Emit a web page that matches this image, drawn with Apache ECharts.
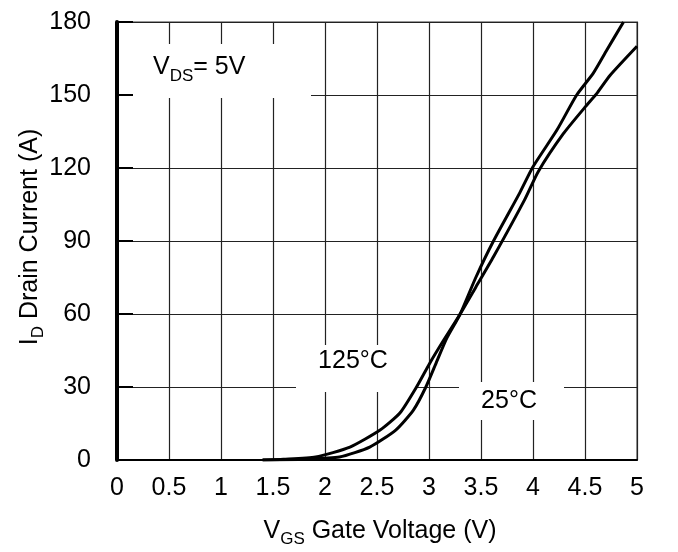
<!DOCTYPE html>
<html lang="en">
<head>
    <meta charset="UTF-8">
    <title>Transfer Characteristics</title>
    <script src="https://cdn.jsdelivr.net/npm/echarts@6/dist/echarts.min.js"></script>
    <style type="text/css">
        body{ margin:0; background:#fff; }
    </style>
</head>
<body>
<div id="main" style="width: 678px;height:552px;"></div>
<script type="text/javascript">
    // curve readings (V, A)
    var vgs25  = [1.4, 1.8, 2.14, 2.43, 2.68, 2.85, 2.97, 3.07, 3.17, 3.3, 3.45, 3.62, 3.875, 4.0, 4.23, 4.42, 4.58, 4.71, 4.87];
    var id25   = [0, 0.3, 1.2, 5.3, 12.3, 20.5, 30, 40, 50, 60, 75, 90, 110, 120.5, 135.6, 150, 159, 168.5, 180];
    var vgs125 = [1.4, 1.6, 1.91, 2.24, 2.53, 2.72, 2.88, 3.01, 3.13, 3.3, 3.45, 3.62, 3.92, 4.05, 4.29, 4.5, 4.62, 4.74, 5.0];
    var id125  = [0, 0.3, 1.2, 5.3, 12.3, 19.3, 30, 40, 48.5, 60, 71, 83.5, 107, 118.5, 134, 145, 151, 158, 170];

    var xTicks = {min: 0, max: 5, interval: 0.5};
    var yTicks = {min: 0, max: 180, interval: 30};

    function pairs(xs, ys){
        var res = [];
        for (var i = 0; i < xs.length; i++) res.push([xs[i], ys[i]]);
        return res;
    }

    var FONT = '"Liberation Sans", Arial, sans-serif';
    var myChart = echarts.init(document.getElementById('main'));

    var option = {
        animation: false,
        backgroundColor: '#fff',
        grid: {
            left: 117, right: 41, top: 22, bottom: 92,
            show: true, borderColor: '#999', borderWidth: 2
        },
        xAxis: {
            type: 'value',
            min: xTicks.min, max: xTicks.max, interval: xTicks.interval,
            axisLine: {lineStyle: {color: '#000', width: 2}},
            axisTick: {show: false},
            splitLine: {lineStyle: {color: '#222', width: 1.2}},
            axisLabel: {color: '#000', fontSize: 25, fontFamily: FONT, margin: 16}
        },
        yAxis: {
            type: 'value',
            min: yTicks.min, max: yTicks.max, interval: yTicks.interval,
            axisLine: {show: true, lineStyle: {color: '#000', width: 4}},
            axisTick: {show: true, inside: true, length: 16, lineStyle: {color: '#000', width: 2}},
            splitLine: {lineStyle: {color: '#222', width: 1.2}},
            axisLabel: {color: '#000', fontSize: 25, fontFamily: FONT, margin: 26}
        },
        graphic: [
            // label boxes (white background cuts the grid)
            {type: 'rect', z: 1, shape: {x: 133, y: 44, width: 178, height: 54}, style: {fill: '#fff'}},
            {type: 'rect', z: 1, shape: {x: 296, y: 345, width: 119, height: 47}, style: {fill: '#fff'}},
            {type: 'rect', z: 1, shape: {x: 459, y: 382, width: 105, height: 38}, style: {fill: '#fff'}},
            {
                type: 'text', z: 10, left: 153, top: 55,
                style: {
                    text: '{a|V}{b|DS}{a|= 5V}',
                    rich: {
                        a: {fontSize: 25, fontFamily: FONT, fill: '#000', lineHeight: 34, verticalAlign: 'middle'},
                        b: {fontSize: 17, fontFamily: FONT, fill: '#000', lineHeight: 17, verticalAlign: 'bottom'}
                    }
                }
            },
            {
                type: 'text', z: 10, x: 353, y: 361,
                style: {text: '125°C', fontSize: 25, fontFamily: FONT, fill: '#000', align: 'center', verticalAlign: 'middle'}
            },
            {
                type: 'text', z: 10, x: 509, y: 401,
                style: {text: '25°C', fontSize: 25, fontFamily: FONT, fill: '#000', align: 'center', verticalAlign: 'middle'}
            },
            {
                type: 'text', z: 10, x: 30, y: 237, rotation: Math.PI / 2,
                style: {
                    text: '{a|I}{b|D}{a| Drain Current (A)}',
                    align: 'center', verticalAlign: 'middle',
                    rich: {
                        a: {fontSize: 25, fontFamily: FONT, fill: '#000', lineHeight: 34, verticalAlign: 'middle'},
                        b: {fontSize: 17, fontFamily: FONT, fill: '#000', lineHeight: 17, verticalAlign: 'bottom'}
                    }
                }
            },
            {
                type: 'text', z: 10, x: 380, y: 531,
                style: {
                    text: '{a|V}{b|GS}{a| Gate Voltage (V)}',
                    align: 'center', verticalAlign: 'middle',
                    rich: {
                        a: {fontSize: 25, fontFamily: FONT, fill: '#000', lineHeight: 34, verticalAlign: 'middle'},
                        b: {fontSize: 17, fontFamily: FONT, fill: '#000', lineHeight: 17, verticalAlign: 'bottom'}
                    }
                }
            }
        ],
        series: [
            {
                name: '25°C', type: 'line', z: 3, showSymbol: false, smooth: 0.2,
                lineStyle: {color: '#000', width: 3},
                data: pairs(vgs25, id25)
            },
            {
                name: '125°C', type: 'line', z: 3, showSymbol: false, smooth: 0.2,
                lineStyle: {color: '#000', width: 3},
                data: pairs(vgs125, id125)
            }
        ]
    };
    myChart.setOption(option);
</script>
</body>
</html>
